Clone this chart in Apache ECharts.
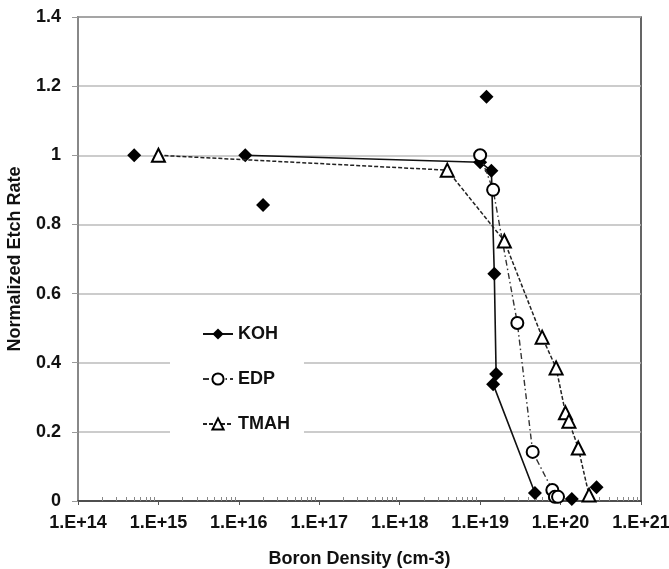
<!DOCTYPE html>
<html>
<head>
<meta charset="utf-8">
<script src="https://cdn.jsdelivr.net/npm/echarts@6/dist/echarts.min.js"></script>
<style>html,body{margin:0;padding:0;background:#fff}#c{width:669px;height:569px}</style>
</head>
<body>
<div id="c"></div>
<script>
// Boron density (cm-3) and normalized etch rate
const kohLineX = [1.2e16, 1.0e19, 1.38e19, 1.5e19, 1.58e19, 1.45e19, 4.8e19];
const kohLineY = [1.0, 0.98, 0.955, 0.657, 0.367, 0.338, 0.023];
const kohExtraX = [5e14, 2e16, 1.2e19, 1.38e20, 2.8e20];
const kohExtraY = [1.0, 0.856, 1.169, 0.006, 0.04];
const edpX = [1.0e19, 1.45e19, 2.9e19, 4.5e19, 7.9e19, 8.5e19, 9.3e19];
const edpY = [1.0, 0.9, 0.515, 0.142, 0.032, 0.012, 0.012];
const tmahX = [1e15, 3.9e18, 2.0e19, 5.9e19, 8.8e19, 1.15e20, 1.27e20, 1.66e20, 2.26e20];
const tmahY = [1.0, 0.957, 0.752, 0.474, 0.385, 0.255, 0.231, 0.153, 0.017];
const xExpMin = 14, xExpMax = 21;

const pts = (xs, ys) => xs.map((x, i) => [Math.log10(x), ys[i]]);
const minorVals = [];
for (let e = xExpMin; e < xExpMax; e++) for (let k = 2; k <= 9; k++) minorVals.push(e + Math.log10(k));

const FONT = 'Liberation Sans, Arial, sans-serif';
const chart = echarts.init(document.getElementById('c'), null, {renderer: 'canvas'});
chart.setOption({
  animation: false,
  backgroundColor: '#fff',
  grid: {left: 78, right: 28, top: 17, bottom: 68, show: true, borderColor: '#333', borderWidth: 1.5,
    backgroundColor: 'transparent', containLabel: false, outerBoundsMode: 'none'},
  legend: {
    data: ['KOH', 'EDP', 'TMAH'],
    orient: 'vertical', left: 170, top: 310,
    backgroundColor: '#fff',
    padding: [15, 14, 15, 32],
    itemGap: 27, itemWidth: 30, itemHeight: 14,
    textStyle: {fontFamily: FONT, fontWeight: 'bold', fontSize: 18, color: '#111'}
  },
  xAxis: [{
    type: 'value', min: xExpMin, max: xExpMax, interval: 1,
    name: 'Boron Density (cm-3)', nameLocation: 'middle', nameGap: 49,
    nameTextStyle: {fontFamily: FONT, fontWeight: 'bold', fontSize: 18, color: '#111'},
    axisLine: {lineStyle: {color: '#333', width: 1.5}},
    axisTick: {show: true, length: 4, lineStyle: {color: '#555'}},
    axisLabel: {formatter: v => '1.E+' + v, fontFamily: FONT, fontWeight: 'bold', fontSize: 18, color: '#111', margin: 13},
    splitLine: {show: false}
  }, {
    type: 'value', min: xExpMin, max: xExpMax, position: 'bottom',
    axisLine: {show: false},
    axisLabel: {show: false},
    axisTick: {show: true, inside: true, length: 4, customValues: minorVals, lineStyle: {color: '#888'}},
    splitLine: {show: false}
  }],
  yAxis: {
    type: 'value', min: 0, max: 1.4, interval: 0.2,
    name: 'Normalized Etch Rate', nameLocation: 'middle', nameGap: 54, nameRotate: 90,
    nameTextStyle: {fontFamily: FONT, fontWeight: 'bold', fontSize: 18, color: '#111'},
    axisLine: {show: true, lineStyle: {color: '#888', width: 2}},
    axisTick: {show: true, length: 6, lineStyle: {color: '#999'}},
    axisLabel: {fontFamily: FONT, fontWeight: 'bold', fontSize: 18, color: '#111', margin: 17,
      formatter: v => String(+v.toFixed(1))},
    splitLine: {show: true, lineStyle: {color: '#bbb', width: 1.5}}
  },
  series: [{
    name: 'KOH', type: 'line', data: pts(kohLineX, kohLineY),
    symbol: 'diamond', symbolSize: 14,
    lineStyle: {color: '#111', width: 1.6, type: 'solid'},
    itemStyle: {color: '#000', borderWidth: 0, opacity: 1}, z: 3
  }, {
    name: 'KOH', type: 'scatter', data: pts(kohExtraX, kohExtraY),
    symbol: 'diamond', symbolSize: 14,
    itemStyle: {color: '#000', opacity: 1}, z: 3
  }, {
    name: 'EDP', type: 'line', data: pts(edpX, edpY),
    symbol: 'circle', symbolSize: 12,
    lineStyle: {color: '#333', width: 1.4, type: [6, 3, 1.5, 3]},
    itemStyle: {color: '#fff', borderColor: '#000', borderWidth: 2}, z: 4
  }, {
    name: 'TMAH', type: 'line', data: pts(tmahX, tmahY),
    symbol: 'triangle', symbolSize: 13,
    lineStyle: {color: '#222', width: 1.5, type: [4, 2]},
    itemStyle: {color: '#fff', borderColor: '#000', borderWidth: 2}, z: 4
  }]
});
</script>
</body>
</html>
